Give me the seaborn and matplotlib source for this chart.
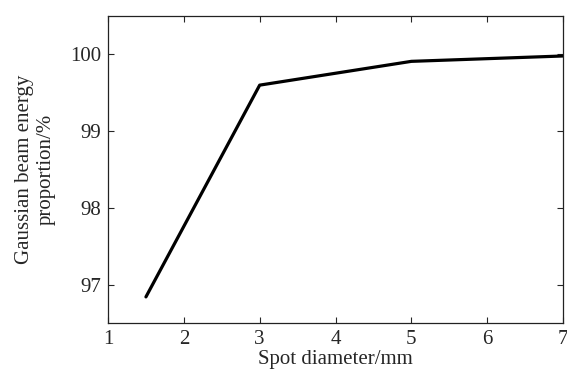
import numpy as np
import pandas as pd
import matplotlib
matplotlib.use('Agg')
import matplotlib.pyplot as plt
import seaborn as sns

# Spot diameter (mm) and Gaussian beam energy proportion (%)
spot_diameter = [1.5, 3, 5, 7]
energy_proportion = [96.84, 99.60, 99.91, 99.98]
x_ticks = [1, 2, 3, 4, 5, 6, 7]
y_ticks = [97, 98, 99, 100]

sns.set_style('ticks')
plt.rcParams['font.family'] = ['Liberation Serif', 'DejaVu Serif']
plt.rcParams['mathtext.fontset'] = 'stix'

df = pd.DataFrame({'d': spot_diameter, 'p': energy_proportion})

fig = plt.figure(figsize=(5.67, 3.74), dpi=100)
ax = fig.add_axes([0.1905, 0.1364, 0.8025, 0.8206])
sns.lineplot(data=df, x='d', y='p', ax=ax, color='black', linewidth=2.3)

ax.set_xlim(1, 7)
ax.set_ylim(96.5, 100.5)
ax.set_xticks(x_ticks)
ax.set_yticks(y_ticks)
ax.tick_params(direction='in', top=True, right=True, length=4, width=0.8,
               labelsize=15, pad=5)
for s in ax.spines.values():
    s.set_linewidth(0.9)
    s.set_color('#222222')

ax.set_xlabel('Spot diameter/mm', fontsize=15, labelpad=1)
ax.set_ylabel('Gaussian beam energy\nproportion/%', fontsize=15, labelpad=10)

fig.savefig('out.png', dpi=100)
